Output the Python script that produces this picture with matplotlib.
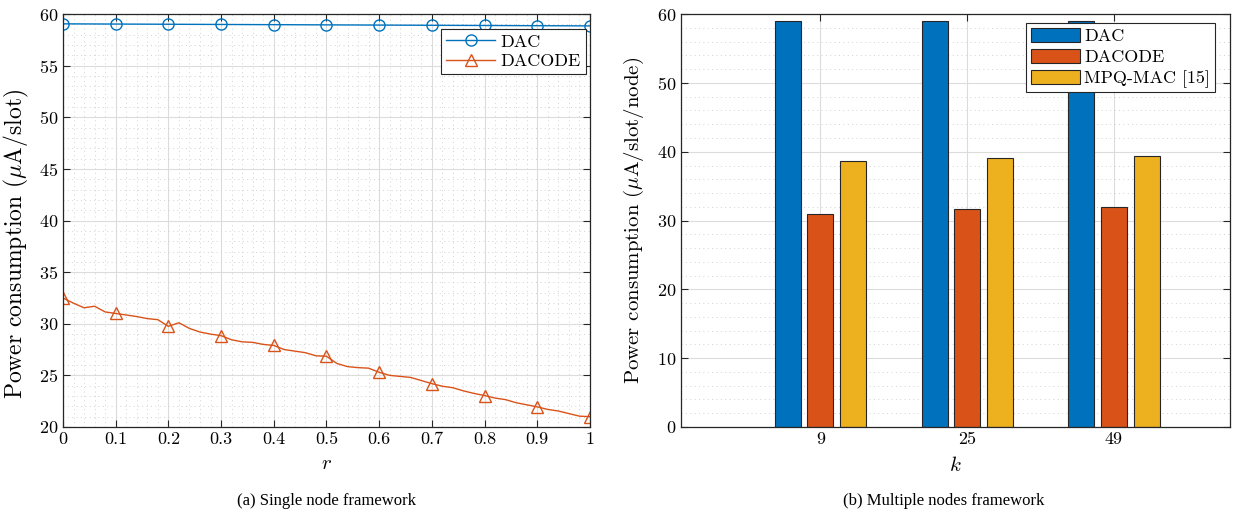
import numpy as np
import matplotlib
matplotlib.use("Agg")
import matplotlib.pyplot as plt
from matplotlib.ticker import MultipleLocator

plt.rcParams["font.family"] = "serif"
plt.rcParams["font.serif"] = ["cmr10"]
plt.rcParams["mathtext.fontset"] = "cm"
plt.rcParams["axes.formatter.use_mathtext"] = True

BLUE, ORANGE, YELLOW = "#0072BD", "#D95319", "#EDB120"

# (a) single node: power vs r
r_dac = [0.0, 0.1, 0.2, 0.3, 0.4, 0.5, 0.6, 0.7, 0.8, 0.9, 1.0]
p_dac = [59.06, 59.04, 59.02, 59.0, 58.98, 58.96, 58.94, 58.92, 58.9, 58.88, 58.86]
r_dacode = [0.00, 0.02, 0.04, 0.06, 0.08, 0.10, 0.12, 0.14, 0.16, 0.18,
            0.20, 0.22, 0.24, 0.26, 0.28, 0.30, 0.32, 0.34, 0.36, 0.38,
            0.40, 0.42, 0.44, 0.46, 0.48, 0.50, 0.52, 0.54, 0.56, 0.58,
            0.60, 0.62, 0.64, 0.66, 0.68, 0.70, 0.72, 0.74, 0.76, 0.78,
            0.80, 0.82, 0.84, 0.86, 0.88, 0.90, 0.92, 0.94, 0.96, 0.98, 1.00]
p_dacode = [32.5, 32.0, 31.55, 31.7, 31.15, 31.0, 30.85, 30.7, 30.5, 30.4,
            29.75, 30.1, 29.55, 29.2, 29.0, 28.85, 28.45, 28.25, 28.2, 28.0,
            27.9, 27.5, 27.35, 27.2, 26.9, 26.85, 26.15, 25.85, 25.75, 25.7,
            25.3, 25.0, 24.9, 24.8, 24.5, 24.2, 23.95, 23.8, 23.5, 23.25,
            23.05, 22.8, 22.65, 22.35, 22.15, 21.95, 21.7, 21.55, 21.3, 21.05, 21.0]
r_ticklabels = ["0", "0.1", "0.2", "0.3", "0.4", "0.5", "0.6", "0.7", "0.8", "0.9", "1"]

# (b) multiple nodes: power per node vs k
k_labels = ["9", "25", "49"]
bar_dac = [59.0, 59.0, 59.0]
bar_dacode = [31.0, 31.7, 31.9]
bar_mpq = [38.7, 39.05, 39.35]

fig = plt.figure(figsize=(12.37, 5.18), dpi=100)
ax1 = fig.add_axes([0.0509, 0.1757, 0.426, 0.797])
ax2 = fig.add_axes([0.5505, 0.1757, 0.4438, 0.797])


def style(ax):
    ax.tick_params(which="both", direction="in", top=True, right=True,
                   labelsize=13, color="#262626", length=5)
    ax.tick_params(which="minor", length=0)
    for s in ax.spines.values():
        s.set_color("#262626")
        s.set_linewidth(0.9)
    ax.grid(True, which="major", color="#dcdcdc", lw=0.8)
    ax.grid(True, which="minor", color="#d2d2d2", lw=0.7, ls=(0, (1, 3.5)))
    ax.set_axisbelow(True)


ax1.plot(r_dac, p_dac, color=BLUE, lw=1.0, marker="o", ms=8, mfc="none",
         mew=1.0, label="DAC")
ax1.plot(r_dacode, p_dacode, color=ORANGE, lw=1.0, marker="^", ms=8.5, mfc="none",
         mew=1.0, markevery=5, label="DACODE")
ax1.set_xlim(0, 1)
ax1.set_ylim(20, 60)
ax1.xaxis.set_minor_locator(MultipleLocator(0.02))
ax1.yaxis.set_major_locator(MultipleLocator(5))
ax1.yaxis.set_minor_locator(MultipleLocator(1))
style(ax1)
ax1.set_xticks(r_dac)
ax1.set_xticklabels(r_ticklabels)
ax1.set_xlabel("$r$", fontsize=15, labelpad=6)
ax1.set_ylabel(r"Power consumption ($\mu$A/slot)", fontsize=17)
ax1.yaxis.set_label_coords(-0.06, 0.443)
leg1 = ax1.legend(loc="upper right", bbox_to_anchor=(0.993, 0.965), fontsize=13,
                  fancybox=False, edgecolor="#262626", framealpha=1,
                  borderpad=0.3, handlelength=2.7, labelspacing=0.2,
                  handletextpad=0.3, borderaxespad=0)
leg1.get_frame().set_linewidth(0.8)

x = np.arange(1, len(k_labels) + 1)
off, w = 0.222, 0.178
ax2.bar(x - off, bar_dac, w, color=BLUE, edgecolor="#262626", lw=0.8, label="DAC")
ax2.bar(x, bar_dacode, w, color=ORANGE, edgecolor="#262626", lw=0.8, label="DACODE")
ax2.bar(x + off, bar_mpq, w, color=YELLOW, edgecolor="#262626", lw=0.8, label="MPQ-MAC [15]")
ax2.set_xlim(0.05, 3.79)
ax2.set_ylim(0, 60)
ax2.set_xticks(x)
ax2.set_xticklabels(k_labels)
ax2.yaxis.set_major_locator(MultipleLocator(10))
ax2.yaxis.set_minor_locator(MultipleLocator(2))
style(ax2)
ax2.grid(False, which="minor", axis="x")
ax2.set_xlabel("$k$", fontsize=15, labelpad=6)
ax2.set_ylabel(r"Power consumption ($\mu$A/slot/node)", fontsize=15, labelpad=8)
leg2 = ax2.legend(loc="upper right", bbox_to_anchor=(0.972, 0.978), fontsize=13,
                  fancybox=False, edgecolor="#262626", framealpha=1,
                  borderpad=0.25, handlelength=2.7, handleheight=0.85,
                  labelspacing=0.25, handletextpad=0.25, borderaxespad=0)
leg2.get_frame().set_linewidth(0.8)

fig.text(0.264, 0.025, "(a) Single node framework", ha="center",
         family="Liberation Serif", fontsize=12)
fig.text(0.7625, 0.025, "(b) Multiple nodes framework", ha="center",
         family="Liberation Serif", fontsize=12)

fig.savefig("out.png", dpi=100)
